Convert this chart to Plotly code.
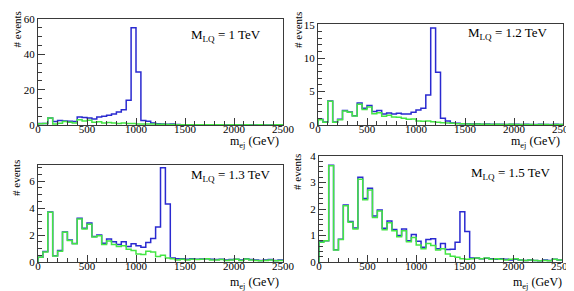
import plotly.graph_objects as go

W, H = 574, 291

# bin edges (GeV), 50 GeV bins
bin_edges = list(range(0, 2550, 50))

# ---- M_LQ = 1 TeV ----
p1_total = [0.8, 0.8, 4.0, 2.0, 2.6, 2.3, 2.1, 2.0, 4.5, 4.3,
            4.0, 3.4, 4.5, 4.9, 5.5, 6.2, 7.4, 8.7, 14.0, 55.0,
            30.0, 2.6, 2.1, 1.1, 0.7, 0.6, 0.4, 0.5, 0.3, 0.2,
            0.15, 0.1, 0.12, 0.1, 0.08, 0.1, 0.1, 0.08, 0.06, 0.1,
            0.08, 0.05, 0.1, 0.06, 0.05, 0.08, 0.06, 0.05, 0.1, 0.08]
p1_bkg = [0.7, 0.8, 3.9, 0.5, 1.0, 2.0, 1.5, 1.2, 3.0, 2.3,
          2.7, 1.6, 1.9, 1.2, 1.4, 1.1, 0.9, 1.1, 0.8, 0.8,
          0.6, 0.5, 0.6, 0.6, 0.45, 0.45, 0.3, 0.25, 0.18, 0.15,
          0.12, 0.1, 0.12, 0.1, 0.08, 0.1, 0.1, 0.08, 0.06, 0.1,
          0.08, 0.05, 0.1, 0.06, 0.05, 0.08, 0.06, 0.05, 0.1, 0.08]

# ---- M_LQ = 1.2 TeV ----
p2_total = [0.85, 0.45, 3.6, 0.45, 0.85, 2.15, 1.95, 1.4, 3.3, 2.5,
            2.9, 2.0, 2.15, 1.65, 1.8, 1.65, 1.75, 1.65, 1.65, 1.9,
            2.25, 2.5, 4.5, 14.5, 7.9, 1.0, 0.6, 0.3, 0.25, 0.2,
            0.2, 0.15, 0.18, 0.12, 0.15, 0.1, 0.12, 0.1, 0.08, 0.12,
            0.1, 0.08, 0.1, 0.08, 0.06, 0.1, 0.08, 0.06, 0.1, 0.08]
p2_bkg = [0.8, 0.4, 3.55, 0.4, 0.8, 2.1, 1.9, 1.35, 3.1, 2.3,
          2.7, 1.7, 1.85, 1.3, 1.45, 1.2, 1.15, 1.0, 0.85, 0.9,
          0.6, 0.55, 0.6, 0.5, 0.4, 0.35, 0.3, 0.25, 0.2, 0.18,
          0.15, 0.12, 0.15, 0.1, 0.12, 0.08, 0.1, 0.08, 0.06, 0.1,
          0.08, 0.06, 0.08, 0.06, 0.05, 0.08, 0.06, 0.05, 0.08, 0.06]

# ---- M_LQ = 1.3 TeV ----
p3_total = [0.35, 0.78, 3.72, 0.47, 0.85, 2.22, 1.63, 1.38, 3.25, 2.5,
            2.9, 1.9, 2.0, 1.4, 1.7, 1.5, 1.3, 1.5, 1.15, 1.35,
            1.2, 1.1, 1.45, 1.75, 2.6, 7.0, 4.3, 0.3, 0.25, 0.25,
            0.2, 0.25, 0.2, 0.22, 0.25, 0.2, 0.18, 0.2, 0.15, 0.18,
            0.2, 0.15, 0.25, 0.18, 0.15, 0.12, 0.15, 0.18, 0.12, 0.15]
p3_bkg = [0.35, 0.75, 3.7, 0.45, 0.8, 2.2, 1.6, 1.35, 3.2, 2.45,
          2.8, 1.85, 1.95, 1.3, 1.55, 1.3, 1.15, 1.2, 0.95, 0.85,
          0.6, 0.55, 0.8, 0.75, 0.4, 0.5, 0.3, 0.25, 0.15, 0.2,
          0.15, 0.2, 0.18, 0.2, 0.25, 0.15, 0.15, 0.18, 0.12, 0.15,
          0.2, 0.12, 0.22, 0.15, 0.12, 0.1, 0.12, 0.15, 0.1, 0.12]

# ---- M_LQ = 1.5 TeV ----
p4_total = [0.77, 0.8, 3.65, 0.46, 0.86, 2.15, 1.53, 1.28, 3.2, 2.4,
            2.78, 1.74, 1.96, 1.27, 1.55, 1.23, 1.0, 1.25, 0.8, 1.04,
            0.78, 0.56, 0.85, 0.88, 0.5, 0.7, 0.47, 0.48, 0.75, 1.9,
            1.15, 0.15, 0.15, 0.12, 0.14, 0.12, 0.1, 0.12, 0.1, 0.08,
            0.1, 0.08, 0.06, 0.08, 0.06, 0.05, 0.08, 0.06, 0.1, 0.08]
p4_bkg = [0.75, 0.8, 3.63, 0.45, 0.85, 2.12, 1.5, 1.25, 3.12, 2.35,
          2.72, 1.68, 1.92, 1.22, 1.48, 1.18, 0.95, 1.18, 0.76, 0.92,
          0.64, 0.5, 0.7, 0.62, 0.45, 0.5, 0.3, 0.22, 0.18, 0.12,
          0.1, 0.12, 0.15, 0.12, 0.15, 0.1, 0.12, 0.1, 0.08, 0.1,
          0.12, 0.08, 0.06, 0.08, 0.06, 0.05, 0.06, 0.05, 0.1, 0.08]

mass_labels = ["M<sub>LQ</sub> = 1 TeV", "M<sub>LQ</sub> = 1.2 TeV",
               "M<sub>LQ</sub> = 1.3 TeV", "M<sub>LQ</sub> = 1.5 TeV"]
y_tops = [60, 15.1, 7.2, 4]
y_dticks = [20, 5, 2, 1]
y_minor = [5, 1, 0.5, 0.2]
x_ticks = [0, 500, 1000, 1500, 2000, 2500]

totals = [p1_total, p2_total, p3_total, p4_total]
bkgs = [p1_bkg, p2_bkg, p3_bkg, p4_bkg]

# frame pixel boxes (x0, x1, y0, y1) from top-left
boxes = [(30, 275, 11, 117), (310, 555, 16, 117),
         (30, 275, 157, 254), (311, 554, 148, 254)]
mass_pos = [(255, 27), (542, 25), (265, 167), (545, 165)]
xt_pos = [(273, 134), (554, 134), (273, 275), (556, 275)]
yt_pos = [(8.5, 2), (290, 2), (8, 150), (289, 144)]

BLUE = "#2a2ad0"
GREEN = "#44e644"
FRAME = "#3a3a3a"
FONT = "Liberation Serif, Times New Roman, serif"


def step_xy(vals):
    xs = [bin_edges[0]] + bin_edges
    ys = [0] + list(vals) + [vals[-1]]
    return xs, ys


fig = go.Figure()
annotations = []
layout_axes = {}
for i in range(4):
    k = "" if i == 0 else str(i + 1)
    x0, x1, y0, y1 = boxes[i]
    for vals, col in ((totals[i], BLUE), (bkgs[i], GREEN)):
        xs, ys = step_xy(vals)
        fig.add_trace(go.Scatter(x=xs, y=ys, mode="lines",
                                 line=dict(shape="hv", color=col, width=1.5),
                                 xaxis="x" + k, yaxis="y" + k,
                                 showlegend=False, hoverinfo="skip"))
    common = dict(showline=True, linecolor=FRAME, linewidth=1.3, mirror=True,
                  ticks="inside", tickcolor=FRAME, ticklen=7, tickwidth=1,
                  showgrid=False, zeroline=False, automargin=False,
                  tickfont=dict(family=FONT, size=11, color="black"))
    layout_axes["xaxis" + k] = dict(
        common, domain=[x0 / W, x1 / W], range=[0, 2500],
        tickvals=x_ticks, anchor="y" + k, ticklabelstandoff=-6,
        minor=dict(ticks="inside", ticklen=4, dtick=100, tickcolor=FRAME,
                   showgrid=False))
    layout_axes["yaxis" + k] = dict(
        common, domain=[1 - y1 / H, 1 - y0 / H], range=[0, y_tops[i]],
        dtick=y_dticks[i], tick0=0, anchor="x" + k, ticklabelstandoff=0,
        minor=dict(ticks="inside", ticklen=4, dtick=y_minor[i],
                   tickcolor=FRAME, showgrid=False))
    mx, my = mass_pos[i]
    annotations.append(dict(text=mass_labels[i], x=mx / W, y=1 - my / H,
                            xref="paper", yref="paper", xanchor="right",
                            yanchor="middle", showarrow=False,
                            font=dict(family=FONT, size=13, color="black")))
    tx, ty = xt_pos[i]
    annotations.append(dict(text="m<sub>ej</sub> (GeV)", x=tx / W, y=1 - ty / H,
                            xref="paper", yref="paper", xanchor="right",
                            yanchor="middle", showarrow=False,
                            font=dict(family=FONT, size=12, color="black")))
    yx, yy = yt_pos[i]
    annotations.append(dict(text="# events", x=yx / W, y=1 - yy / H,
                            xref="paper", yref="paper", xanchor="center",
                            yanchor="top", textangle=-90, showarrow=False,
                            font=dict(family=FONT, size=11, color="black")))

fig.update_layout(width=W, height=H, margin=dict(l=0, r=0, t=0, b=0),
                  paper_bgcolor="white", plot_bgcolor="white",
                  annotations=annotations, **layout_axes)

fig.write_html("out.html")
